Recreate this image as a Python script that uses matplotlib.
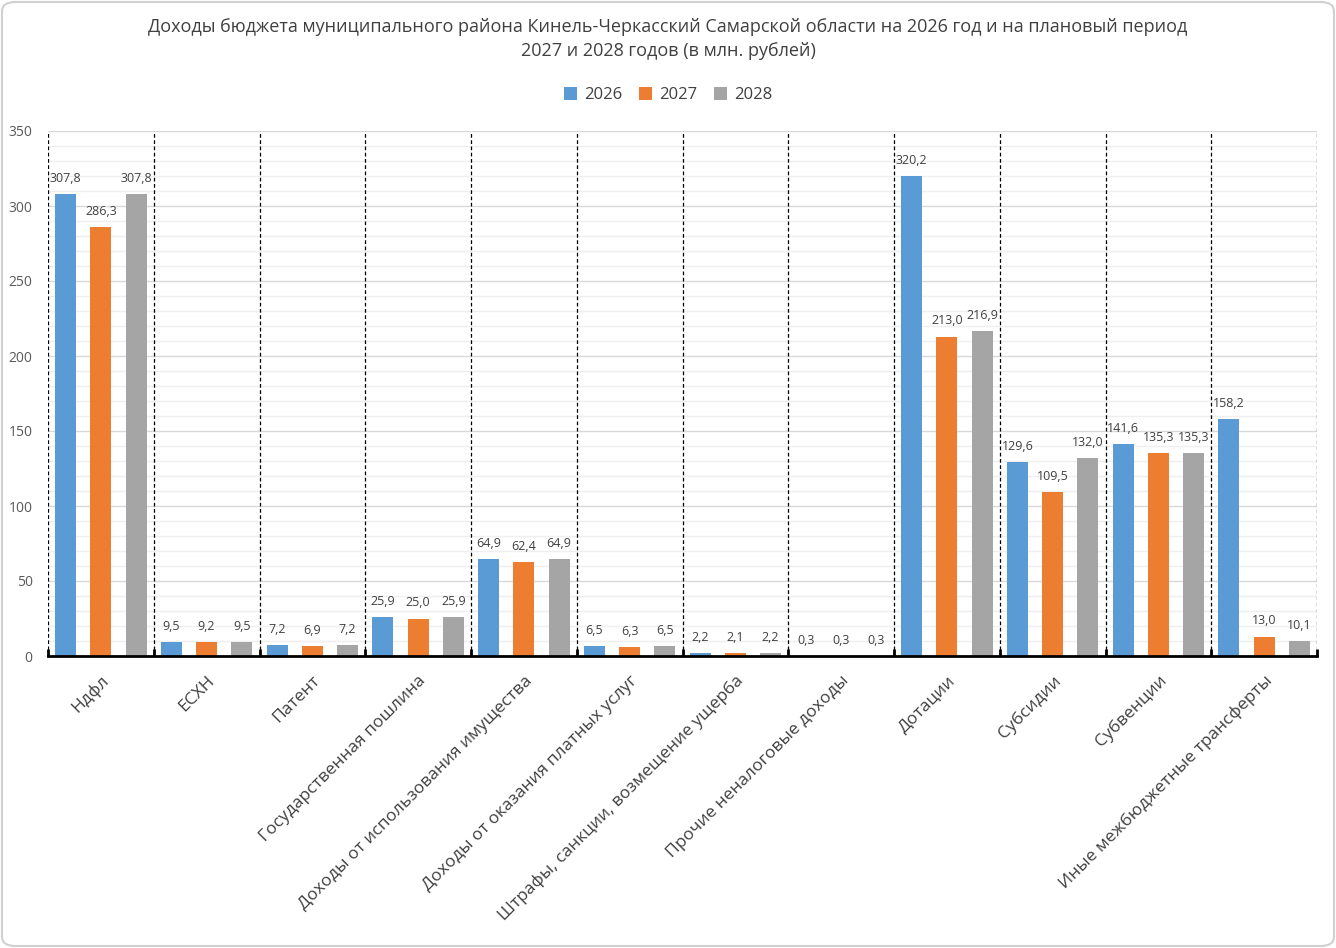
import matplotlib
matplotlib.use("Agg")
import matplotlib.pyplot as plt
import numpy as np
from matplotlib.patches import FancyBboxPatch
from matplotlib.ticker import MultipleLocator

categories = ["Ндфл", "ЕСХН", "Патент", "Государственная пошлина",
              "Доходы от использования имущества", "Доходы от оказания платных услуг",
              "Штрафы, санкции, возмещение ущерба", "Прочие неналоговые доходы",
              "Дотации", "Субсидии", "Субвенции", "Иные межбюджетные трансферты"]
v2026 = [307.8, 9.5, 7.2, 25.9, 64.9, 6.5, 2.2, 0.3, 320.2, 129.6, 141.6, 158.2]
v2027 = [286.3, 9.2, 6.9, 25.0, 62.4, 6.3, 2.1, 0.3, 213.0, 109.5, 135.3, 13.0]
v2028 = [307.8, 9.5, 7.2, 25.9, 64.9, 6.5, 2.2, 0.3, 216.9, 132.0, 135.3, 10.1]
series_names = ["2026", "2027", "2028"]
colors = ["#5b9bd5", "#ed7d31", "#a5a5a5"]
title = ("Доходы бюджета муниципального района Кинель-Черкасский Самарской области на 2026 год и на плановый период\n"
         "2027 и 2028 годов (в млн. рублей)")

plt.rcParams['font.family'] = ['Open Sans', 'DejaVu Sans']

fig = plt.figure(figsize=(13.36, 9.48), dpi=100)
ax = fig.add_axes([48/1336, 1-656/948, (1317-48)/1336, (656-131)/948])

x = np.arange(len(categories))
w = 0.2
offs = [-0.333, 0, 0.333]
for s, (vals, c, off) in enumerate(zip([v2026, v2027, v2028], colors, offs)):
    ax.bar(x + off, vals, width=w, color=c, label=series_names[s], zorder=3)
    for xi, v in zip(x + off, vals):
        ax.annotate(f"{v:.1f}".replace(".", ","), (xi, v), xytext=(0, 6.5),
                    textcoords="offset points", ha="center", va="bottom",
                    fontsize=9, color="#404040", zorder=4)

ax.set_xlim(-0.5, len(categories) - 0.5)
ax.set_ylim(0, 350)
ax.yaxis.set_major_locator(MultipleLocator(50))
ax.yaxis.set_minor_locator(MultipleLocator(10))
ax.grid(which="major", axis="y", color="#d9d9d9", lw=1, zorder=0)
ax.grid(which="minor", axis="y", color="#efefef", lw=1, zorder=0)
ax.tick_params(axis="y", which="both", length=0, labelsize=10, labelcolor="#595959", pad=11)
for b in np.arange(-0.5, len(categories), 1.0):
    ax.axvline(b, color="black", lw=0.9, ls=(0, (3, 2)), zorder=2)

ax.set_xticks(x)
ax.set_xticklabels(categories, rotation=45, ha="right", rotation_mode="anchor",
                   fontsize=12.5, color="#404040")
ax.tick_params(axis="x", length=0, pad=12)
ax.set_xticks(np.arange(-0.5, len(categories), 1.0), minor=True)
ax.tick_params(axis="x", which="minor", length=5, direction="in", width=2, color="black")

for sp in ["top", "right", "left"]:
    ax.spines[sp].set_visible(False)
ax.spines["bottom"].set_color("black")
ax.spines["bottom"].set_linewidth(2)
ax.spines["bottom"].set_zorder(5)

fig.text(0.5, 1-39/948, title, ha="center", va="center", fontsize=13,
         color="#404040", linespacing=1.45)
fig.legend(loc="center", bbox_to_anchor=(0.5, 1-95/948), ncol=3, frameon=False,
           fontsize=12, handlelength=0.8, handleheight=0.8, handletextpad=0.4,
           columnspacing=1.0, labelcolor="#404040")

border = FancyBboxPatch((2/1336, 2/948), 1-4/1336, 1-4/948,
                        boxstyle="round,pad=0,rounding_size=0.01",
                        transform=fig.transFigure, fill=False, ec="#d0d0d0", lw=1.5)
fig.patches.append(border)

fig.savefig("out.png", dpi=100, facecolor="white")
